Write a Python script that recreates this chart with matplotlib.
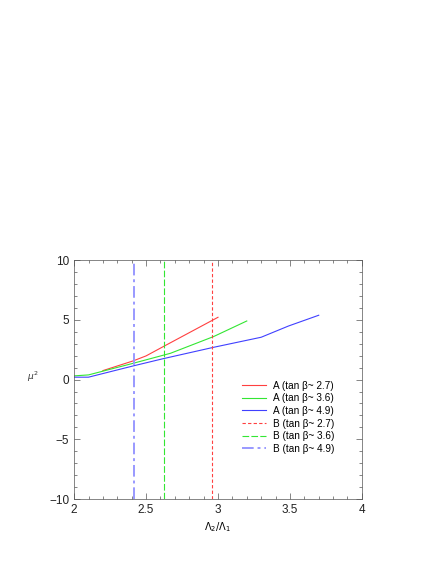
import matplotlib
matplotlib.use("Agg")
import matplotlib.pyplot as plt
from matplotlib.ticker import MultipleLocator, FuncFormatter

plt.rcParams['font.family'] = ['Liberation Sans', 'DejaVu Sans']

# Series A (solid curves)
xA_27 = [2.2, 2.41, 2.5, 2.62, 3.0]
yA_27 = [0.75, 1.56, 1.98, 2.76, 5.21]
xA_36 = [2.0, 2.1, 2.41, 2.67, 2.97, 3.2]
yA_36 = [0.31, 0.39, 1.36, 2.2, 3.6, 4.9]
xA_49 = [2.0, 2.1, 2.41, 2.62, 2.97, 3.3, 3.49, 3.7]
yA_49 = [0.2, 0.2, 1.14, 1.75, 2.7, 3.54, 4.48, 5.38]
# Series B (vertical lines)
xB_27 = 2.96
xB_36 = 2.626
xB_49 = 2.415

labels = ["A (tan β~ 2.7)", "A (tan β~ 3.6)", "A (tan β~ 4.9)",
          "B (tan β~ 2.7)", "B (tan β~ 3.6)", "B (tan β~ 4.9)"]

red = '#ff4040'
green = '#33e633'
blue = '#4040ff'
lblue = '#9999ff'

fig = plt.figure(figsize=(4.36, 5.64), dpi=100)
ax = fig.add_axes([0.170, 0.115, 0.660, 0.424])

ax.plot(xA_27, yA_27, color=red, lw=0.8, label=labels[0])
ax.plot(xA_36, yA_36, color=green, lw=0.8, label=labels[1])
ax.plot(xA_49, yA_49, color=blue, lw=0.8, label=labels[2])
ax.axvline(xB_27, color=red, lw=0.8, ls=(0, (3, 2)), label=labels[3])
ax.axvline(xB_36, color=green, lw=0.8, ls=(0, (6, 2)), label=labels[4])
ax.axvline(xB_49, color=lblue, lw=1.4, ls=(0, (6, 2, 1.5, 2)), label=labels[5])

ax.set_xlim(2, 4)
ax.set_ylim(-10, 10)
ax.xaxis.set_major_locator(MultipleLocator(0.5))
ax.xaxis.set_minor_locator(MultipleLocator(0.1))
ax.yaxis.set_major_locator(MultipleLocator(5))
ax.yaxis.set_minor_locator(MultipleLocator(1))
ax.xaxis.set_major_formatter(FuncFormatter(lambda v, p: f"{v:g}"))
ax.yaxis.set_major_formatter(FuncFormatter(lambda v, p: f"{v:g}".replace('-', '\u2212')))
ax.tick_params(which='both', direction='in', top=True, right=True, labelsize=8.5, width=0.5, colors='#555555', labelcolor='#222222')
ax.tick_params(which='major', length=4)
ax.tick_params(which='minor', length=2)
for s in ax.spines.values():
    s.set_linewidth(0.5)
    s.set_color('#555555')

ax.set_xlabel(r'$\Lambda_2/\Lambda_1$', fontsize=7, labelpad=3)
ax.set_ylabel(r'$\mu^2$', fontsize=6.5, rotation=0, color='#333333')
ax.yaxis.set_label_coords(-0.145, 0.48)

leg = ax.legend(loc='upper left', bbox_to_anchor=(0.583, 0.495), frameon=False,
                fontsize=7.2, handlelength=2.4, labelspacing=0.26, handletextpad=0.7,
                borderpad=0, borderaxespad=0)

fig.savefig('out.png', dpi=100)
